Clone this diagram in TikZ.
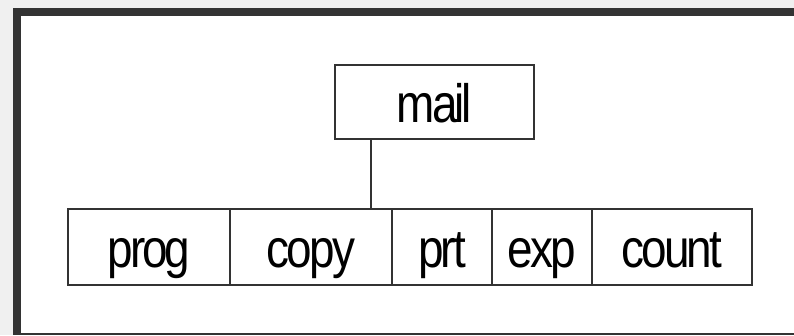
\documentclass[tikz,border=0pt]{standalone}
\usepackage{fontspec}
\setmainfont[FakeStretch=0.85,LetterSpace=-5.5]{Liberation Sans}
\usepackage{tikz}
\usetikzlibrary{positioning}

\tikzset{
  cell/.style={draw=black!80, line width=1.5pt, inner sep=0pt, outer sep=0pt,
    minimum height=76pt, text height=58pt, text depth=17pt,
    font=\fontsize{54}{60}\selectfont},
}

\begin{document}
\begin{tikzpicture}[x=1pt,y=-1pt]
	% window frame
	\fill[black!6] (0,0) rectangle (794,335);
	\fill[black!80] (13,8) rectangle (794,335);
	\fill[white] (21,16) rectangle (794,333);
	\useasboundingbox (0,0) rectangle (794,335);

	\node[cell,minimum width=162pt] (prog) at (149,247) {prog};
	\node[cell,minimum width=162pt] (copy) [right=0pt of prog] {copy};
	\node[cell,minimum width=100pt] (prt) [right=0pt of copy] {prt};
	\node[cell,minimum width=100pt] (exp) [right=0pt of prt] {exp};
	\node[cell,minimum width=160pt] (count) [right=0pt of exp] {count};

	\node[cell,minimum width=199pt,minimum height=74pt,text height=57pt] (mail) at (434.5,102) {mail};

	\draw[line width=1.5pt,black!80] (mail.south west) ++(36,0) coordinate (tap) -- (tap |- copy.north);
\end{tikzpicture}
\end{document}
